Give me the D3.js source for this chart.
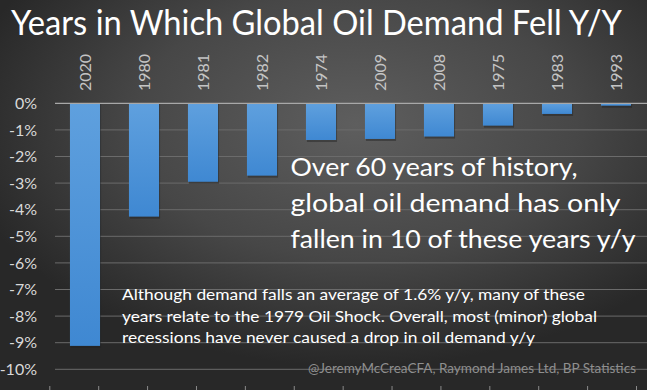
<!DOCTYPE html>
<html><head><meta charset="utf-8">
<script src="https://cdn.jsdelivr.net/npm/d3@7/dist/d3.min.js"></script>
<style>html,body{margin:0;padding:0;background:#333;}svg{display:block;}</style>
</head><body>
<script>
const years = ["2020","1980","1981","1982","1974","2009","2008","1975","1983","1993"];
const changes = [-9.12, -4.26, -2.95, -2.72, -1.38, -1.34, -1.25, -0.84, -0.40, -0.09];
const yTicks = [0,-1,-2,-3,-4,-5,-6,-7,-8,-9,-10];
const title = "Years in Which Global Oil Demand Fell Y/Y";
const bigNote = ["Over 60 years of history,", "global oil demand has only", "fallen in 10 of these years y/y"];
const smallNote = ["Although demand falls an average of 1.6% y/y, many of these",
  "years relate to the 1979 Oil Shock. Overall, most (minor) global",
  "recessions have never caused a drop in oil demand y/y"];
const credit = "@JeremyMcCreaCFA, Raymond James Ltd, BP Statistics";
const bottomSlots = d3.range(13);

const W = 647, H = 390;
const svg = d3.select("body").append("svg").attr("width", W).attr("height", H);
const defs = svg.append("defs");
const rg = defs.append("radialGradient").attr("id","bg").attr("cx","55%").attr("cy","32%").attr("r","62%");
rg.append("stop").attr("offset","0%").attr("stop-color","#5e5e5e");
rg.append("stop").attr("offset","55%").attr("stop-color","#474747");
rg.append("stop").attr("offset","100%").attr("stop-color","#282828");
const bg = defs.append("linearGradient").attr("id","bar").attr("x1",0).attr("x2",0).attr("y1",0).attr("y2",1);
bg.append("stop").attr("offset","0%").attr("stop-color","#5fa0de");
bg.append("stop").attr("offset","100%").attr("stop-color","#3f88d2");

svg.append("rect").attr("width",W).attr("height",H).attr("fill","url(#bg)");

const font = "Lato, 'Open Sans', sans-serif";
const x = d3.scaleBand().domain(years).range([55.5, 645.5]).paddingInner(0.49).paddingOuter(0.245);
const y = d3.scaleLinear().domain([0,-10]).range([103.3, 369.3]);

// gridlines
svg.append("g").selectAll("line").data(yTicks.filter(d=>d!==0)).join("line")
  .attr("x1",55).attr("x2",W).attr("y1",d=>y(d)).attr("y2",d=>y(d))
  .attr("stroke","#6b6b6b").attr("stroke-width",1);

// y axis labels
const ya = svg.append("g").attr("transform","translate(37,0)")
  .call(d3.axisLeft(y).tickValues(yTicks).tickSize(0).tickPadding(0).tickFormat(d=>d+"%"));
ya.select(".domain").remove();
ya.selectAll("text").attr("fill","#d9d9d9").style("font-family",font).style("font-size","16px");

// bars shadow + bars
svg.append("g").selectAll("rect").data(changes).join("rect")
  .attr("x",(d,i)=>x(years[i])+1).attr("width",x.bandwidth())
  .attr("y",y(0)).attr("height",d=>y(d)-y(0)+2)
  .attr("fill","#1e1e1e").attr("opacity",0.45);
svg.append("g").selectAll("rect").data(changes).join("rect")
  .attr("x",(d,i)=>x(years[i])).attr("width",x.bandwidth())
  .attr("y",y(0)).attr("height",d=>y(d)-y(0))
  .attr("fill","url(#bar)");

// zero line
svg.append("line").attr("x1",55).attr("x2",W).attr("y1",y(0)).attr("y2",y(0))
  .attr("stroke","#a8a8a8").attr("stroke-width",1.2);

// category labels (top, rotated)
const xa = svg.append("g").attr("transform","translate(0,91)")
  .call(d3.axisTop(x).tickSize(0).tickPadding(0));
xa.select(".domain").remove();
xa.selectAll("text").attr("fill","#c4c4c4").style("font-family",font).style("font-size","16px")
  .attr("transform","rotate(-90)").attr("text-anchor","start").attr("dy","0.35em").attr("x",0).attr("y",0);

// bottom tick marks
const bs = d3.scalePoint().domain(bottomSlots).range([49.3, 636]);
const ba = svg.append("g").attr("transform","translate(0,390)")
  .call(d3.axisTop(bs).tickSize(4).tickFormat(""));
ba.select(".domain").remove();
ba.selectAll("line").attr("stroke","#8a8a8a");

// title
svg.append("text").attr("x",11).attr("y",35).text(title)
  .attr("fill","#ffffff").style("font-family",font).style("font-size","34px")
  .attr("textLength",611).attr("lengthAdjust","spacingAndGlyphs");

// big note
const bigW = [287, 330, 345];
svg.append("g").selectAll("text").data(bigNote).join("text")
  .attr("x",290.5).attr("y",(d,i)=>176+i*36.2).text(d=>d)
  .attr("fill","#ffffff").style("font-family",font).style("font-size","25px")
  .attr("textLength",(d,i)=>bigW[i]).attr("lengthAdjust","spacingAndGlyphs");

// small note
const smallW = [463, 475, 413];
svg.append("g").selectAll("text").data(smallNote).join("text")
  .attr("x",122).attr("y",(d,i)=>300+i*21.6).text(d=>d)
  .attr("fill","#ffffff").style("font-family",font).style("font-size","16px")
  .attr("textLength",(d,i)=>smallW[i]).attr("lengthAdjust","spacingAndGlyphs");

// credit
svg.append("text").attr("x",308).attr("y",373).text(credit)
  .attr("fill","#8f8f8f").style("font-family",font).style("font-size","14px")
  .attr("textLength",328).attr("lengthAdjust","spacingAndGlyphs");
</script>
</body></html>
